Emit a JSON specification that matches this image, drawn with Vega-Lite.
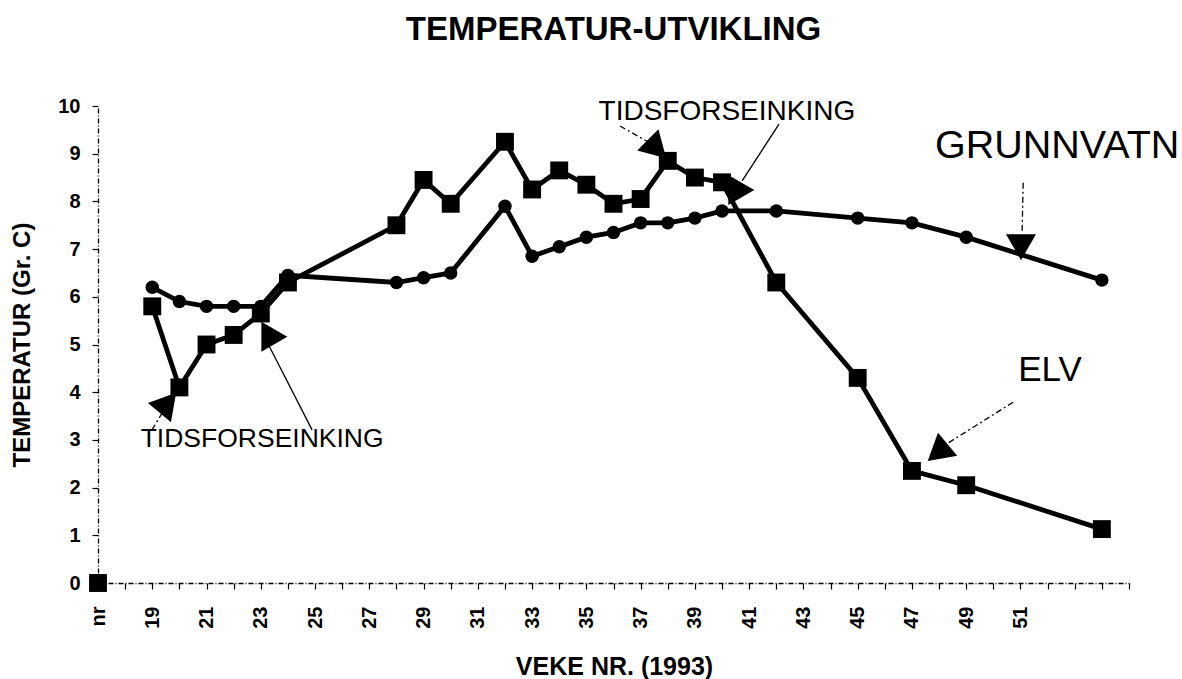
{
  "$schema": "https://vega.github.io/schema/vega-lite/v6.json",
  "width": 1031,
  "height": 477,
  "autosize": "none",
  "padding": {"left": 98, "top": 106, "right": 53, "bottom": 96},
  "background": "white",
  "config": {"view": {"stroke": null}, "font": "Liberation Sans"},
  "title": {
    "text": "TEMPERATUR-UTVIKLING",
    "font": "Liberation Sans",
    "fontSize": 33,
    "fontWeight": "bold",
    "color": "black",
    "anchor": "middle",
    "frame": "group",
    "baseline": "alphabetic",
    "offset": 23
  },
  "datasets": {
    "temps": [
      {"week": 19, "series": "GRUNNVATN", "temp": 6.2},
      {"week": 20, "series": "GRUNNVATN", "temp": 5.9},
      {"week": 21, "series": "GRUNNVATN", "temp": 5.8},
      {"week": 22, "series": "GRUNNVATN", "temp": 5.8},
      {"week": 23, "series": "GRUNNVATN", "temp": 5.8},
      {"week": 24, "series": "GRUNNVATN", "temp": 6.45},
      {"week": 28, "series": "GRUNNVATN", "temp": 6.3},
      {"week": 29, "series": "GRUNNVATN", "temp": 6.4},
      {"week": 30, "series": "GRUNNVATN", "temp": 6.5},
      {"week": 32, "series": "GRUNNVATN", "temp": 7.9},
      {"week": 33, "series": "GRUNNVATN", "temp": 6.85},
      {"week": 34, "series": "GRUNNVATN", "temp": 7.05},
      {"week": 35, "series": "GRUNNVATN", "temp": 7.25},
      {"week": 36, "series": "GRUNNVATN", "temp": 7.35},
      {"week": 37, "series": "GRUNNVATN", "temp": 7.55},
      {"week": 38, "series": "GRUNNVATN", "temp": 7.55},
      {"week": 39, "series": "GRUNNVATN", "temp": 7.65},
      {"week": 40, "series": "GRUNNVATN", "temp": 7.8},
      {"week": 42, "series": "GRUNNVATN", "temp": 7.8},
      {"week": 45, "series": "GRUNNVATN", "temp": 7.65},
      {"week": 47, "series": "GRUNNVATN", "temp": 7.55},
      {"week": 49, "series": "GRUNNVATN", "temp": 7.25},
      {"week": 54, "series": "GRUNNVATN", "temp": 6.35},
      {"week": 17, "series": "ELV", "temp": 0},
      {"week": 19, "series": "ELV", "temp": 5.8},
      {"week": 20, "series": "ELV", "temp": 4.1},
      {"week": 21, "series": "ELV", "temp": 5.0},
      {"week": 22, "series": "ELV", "temp": 5.2},
      {"week": 23, "series": "ELV", "temp": 5.65},
      {"week": 24, "series": "ELV", "temp": 6.3},
      {"week": 28, "series": "ELV", "temp": 7.5},
      {"week": 29, "series": "ELV", "temp": 8.45},
      {"week": 30, "series": "ELV", "temp": 7.95},
      {"week": 32, "series": "ELV", "temp": 9.25},
      {"week": 33, "series": "ELV", "temp": 8.25},
      {"week": 34, "series": "ELV", "temp": 8.65},
      {"week": 35, "series": "ELV", "temp": 8.35},
      {"week": 36, "series": "ELV", "temp": 7.95},
      {"week": 37, "series": "ELV", "temp": 8.05},
      {"week": 38, "series": "ELV", "temp": 8.85},
      {"week": 39, "series": "ELV", "temp": 8.5},
      {"week": 40, "series": "ELV", "temp": 8.4},
      {"week": 42, "series": "ELV", "temp": 6.3},
      {"week": 45, "series": "ELV", "temp": 4.3},
      {"week": 47, "series": "ELV", "temp": 2.35},
      {"week": 49, "series": "ELV", "temp": 2.05},
      {"week": 54, "series": "ELV", "temp": 1.13}
    ],
    "dashedLeaders": [
      {"week": 18.99, "temp": 3.21, "week2": 19.36, "temp2": 3.56},
      {"week": 36.24, "temp": 9.58, "week2": 37.27, "temp2": 9.25},
      {"week": 51.10, "temp": 8.39, "week2": 51.06, "temp2": 7.34},
      {"week": 50.73, "temp": 3.79, "week2": 48.15, "temp2": 2.87}
    ],
    "solidLeaders": [
      {"week": 24.89, "temp": 3.21, "week2": 23.27, "temp2": 5.01},
      {"week": 42.10, "temp": 9.62, "week2": 40.74, "temp2": 8.43}
    ],
    "arrowheads": [
      {"week": 19.47, "temp": 3.71, "direction": "left"},
      {"week": 23.34, "temp": 5.16, "direction": "right"},
      {"week": 37.49, "temp": 9.16, "direction": "downright"},
      {"week": 40.55, "temp": 8.24, "direction": "right"},
      {"week": 51.02, "temp": 7.13, "direction": "down"},
      {"week": 48.07, "temp": 2.79, "direction": "downleft"}
    ]
  },
  "encoding": {
    "x": {
      "field": "week",
      "type": "quantitative",
      "scale": {"domain": [17, 55], "nice": false, "zero": false},
      "axis": {
        "title": "VEKE NR. (1993)",
        "values": [17,18,19,20,21,22,23,24,25,26,27,28,29,30,31,32,33,34,35,36,37,38,39,40,41,42,43,44,45,46,47,48,49,50,51,52,53,54,55],
        "labelExpr": "datum.value == 17 ? 'nr' : ((datum.value >= 19 && datum.value <= 51 && datum.value % 2 == 1) ? datum.label : '')",
        "labelAngle": -90,
        "labelFont": "Liberation Sans",
        "labelFontSize": 20,
        "labelFontWeight": "bold",
        "labelColor": "black",
        "labelPadding": 17,
        "labelOverlap": false,
        "labelBound": false,
        "labelFlush": false,
        "tickSize": 6,
        "tickColor": "black",
        "tickWidth": 1.2,
        "domainColor": "black",
        "domainWidth": 1.3,
        "domainDash": [5, 2, 1, 2],
        "grid": false,
        "titleFont": "Liberation Sans",
        "titleFontSize": 25,
        "titleFontWeight": "bold",
        "titleColor": "black",
        "titleX": 516,
        "titleY": 83,
        "titleBaseline": "middle",
        "titleAlign": "center"
      }
    },
    "y": {
      "field": "temp",
      "type": "quantitative",
      "scale": {"domain": [0, 10], "nice": false},
      "axis": {
        "title": "TEMPERATUR (Gr. C)",
        "values": [0,1,2,3,4,5,6,7,8,9,10],
        "labelFont": "Liberation Sans",
        "labelFontSize": 20,
        "labelFontWeight": "bold",
        "labelColor": "black",
        "labelPadding": 12,
        "tickSize": 6,
        "tickColor": "black",
        "tickWidth": 1.2,
        "domainColor": "black",
        "domainWidth": 1.3,
        "domainDash": [5, 2, 1, 2],
        "grid": false,
        "titleFont": "Liberation Sans",
        "titleFontSize": 24,
        "titleFontWeight": "bold",
        "titleColor": "black",
        "titleAngle": -90,
        "titleX": -76,
        "titleY": 238.5,
        "titleBaseline": "middle",
        "titleAlign": "center"
      }
    }
  },
  "layer": [
    {
      "data": {"name": "temps"},
      "transform": [{"filter": "datum.week >= 19"}],
      "mark": {"type": "line", "color": "black", "strokeWidth": 4.8, "strokeJoin": "miter"},
      "encoding": {"detail": {"field": "series", "type": "nominal"}, "order": {"field": "week", "type": "quantitative"}}
    },
    {
      "data": {"name": "temps"},
      "transform": [{"filter": "datum.series == 'GRUNNVATN'"}],
      "mark": {"type": "point", "shape": "circle", "filled": true, "size": 180, "color": "black", "opacity": 1}
    },
    {
      "data": {"name": "temps"},
      "transform": [{"filter": "datum.series == 'ELV'"}],
      "mark": {"type": "point", "shape": "square", "filled": true, "size": 320, "color": "black", "opacity": 1}
    },
    {
      "data": {"name": "dashedLeaders"},
      "mark": {"type": "rule", "color": "black", "strokeWidth": 1.3, "strokeDash": [6, 3, 2, 3]},
      "encoding": {"x2": {"field": "week2"}, "y2": {"field": "temp2"}}
    },
    {
      "data": {"name": "solidLeaders"},
      "mark": {"type": "rule", "color": "black", "strokeWidth": 1.3},
      "encoding": {"x2": {"field": "week2"}, "y2": {"field": "temp2"}}
    },
    {
      "data": {"name": "arrowheads"},
      "mark": {"type": "point", "shape": "triangle", "filled": true, "size": 900, "color": "black", "opacity": 1},
      "encoding": {
        "angle": {
          "field": "direction",
          "type": "nominal",
          "scale": {"type": "ordinal", "domain": ["left", "right", "downright", "down", "downleft"], "range": [280, 90, 135, 180, 230]},
          "legend": null
        }
      }
    },
    {
      "data": {"values": [{"week": 40.18, "temp": 9.87, "label": "TIDSFORSEINKING"}]},
      "mark": {"type": "text", "font": "Liberation Sans", "fontSize": 28, "color": "black", "align": "center", "baseline": "middle"},
      "encoding": {"text": {"field": "label"}}
    },
    {
      "data": {"values": [{"week": 23.05, "temp": 3.02, "label": "TIDSFORSEINKING"}]},
      "mark": {"type": "text", "font": "Liberation Sans", "fontSize": 26.5, "color": "black", "align": "center", "baseline": "middle"},
      "encoding": {"text": {"field": "label"}}
    },
    {
      "data": {"values": [{"week": 47.85, "temp": 9.16, "label": "GRUNNVATN"}]},
      "mark": {"type": "text", "font": "Liberation Sans", "fontSize": 39.5, "color": "black", "align": "left", "baseline": "middle"},
      "encoding": {"text": {"field": "label"}}
    },
    {
      "data": {"values": [{"week": 52.09, "temp": 4.47, "label": "ELV"}]},
      "mark": {"type": "text", "font": "Liberation Sans", "fontSize": 35, "color": "black", "align": "center", "baseline": "middle"},
      "encoding": {"text": {"field": "label"}}
    }
  ]
}
